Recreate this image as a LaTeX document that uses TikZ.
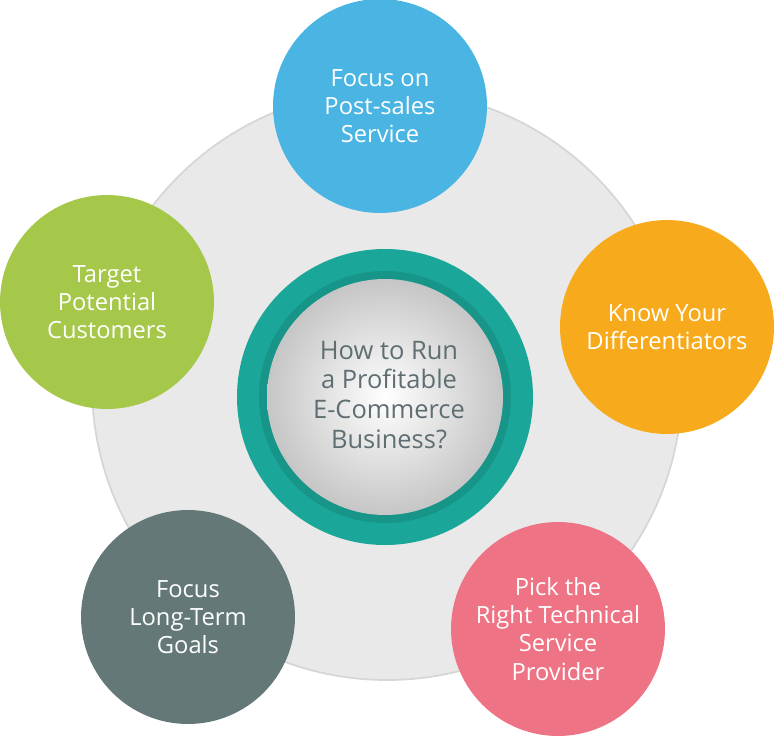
\documentclass[tikz,border=0pt]{standalone}
\usepackage{fontspec}
\setmainfont{Open Sans}
\definecolor{bigring}{HTML}{E9E9E9}
\definecolor{ringline}{HTML}{D6D6D6}
\definecolor{cblue}{HTML}{4AB4E3}
\definecolor{cgreen}{HTML}{A6C84A}
\definecolor{corange}{HTML}{F7AA1B}
\definecolor{cslate}{HTML}{647878}
\definecolor{cpink}{HTML}{EE7384}
\definecolor{cteal}{HTML}{1AA79A}
\definecolor{ctext}{HTML}{5F6E72}
\tikzset{
  topic/.style={circle, minimum size=4.28cm, inner sep=0pt, text=white,
    align=center, font=\fontsize{13.5}{16}\selectfont},
}
\begin{document}
\begin{tikzpicture}[x=0.02cm,y=-0.02cm]
  \useasboundingbox (0,0) rectangle (774,737);
  % background disc
  \fill[bigring, draw=ringline, line width=1pt] (387,385) circle (295);
  % center hub
  \fill[cteal] (385,397) circle (148);
  \fill[cteal!70!black, opacity=0.35] (385,397) circle (126);
  \shade[inner color=white, outer color=gray!45] (385,397) circle (118);
  \node[align=center, text=ctext, font=\fontsize{14.5}{17}\selectfont] (hub) at (389,395)
    {How to Run\\a Profitable\\E-Commerce\\Business?};
  % topics
  \node[topic, fill=cblue] (post) at (380,106) {Focus on\\Post-sales\\Service};
  \node[topic, fill=cgreen] (target) at (107,302) {Target\\Potential\\Customers};
  \node[topic, fill=corange] (diff) at (667,327) {Know Your\\Differentiators};
  \node[topic, fill=cslate] (goals) at (188,617) {Focus\\Long-Term\\Goals};
  \node[topic, fill=cpink] (pick) at (558,629) {Pick the\\Right Technical\\Service\\Provider};
\end{tikzpicture}
\end{document}
